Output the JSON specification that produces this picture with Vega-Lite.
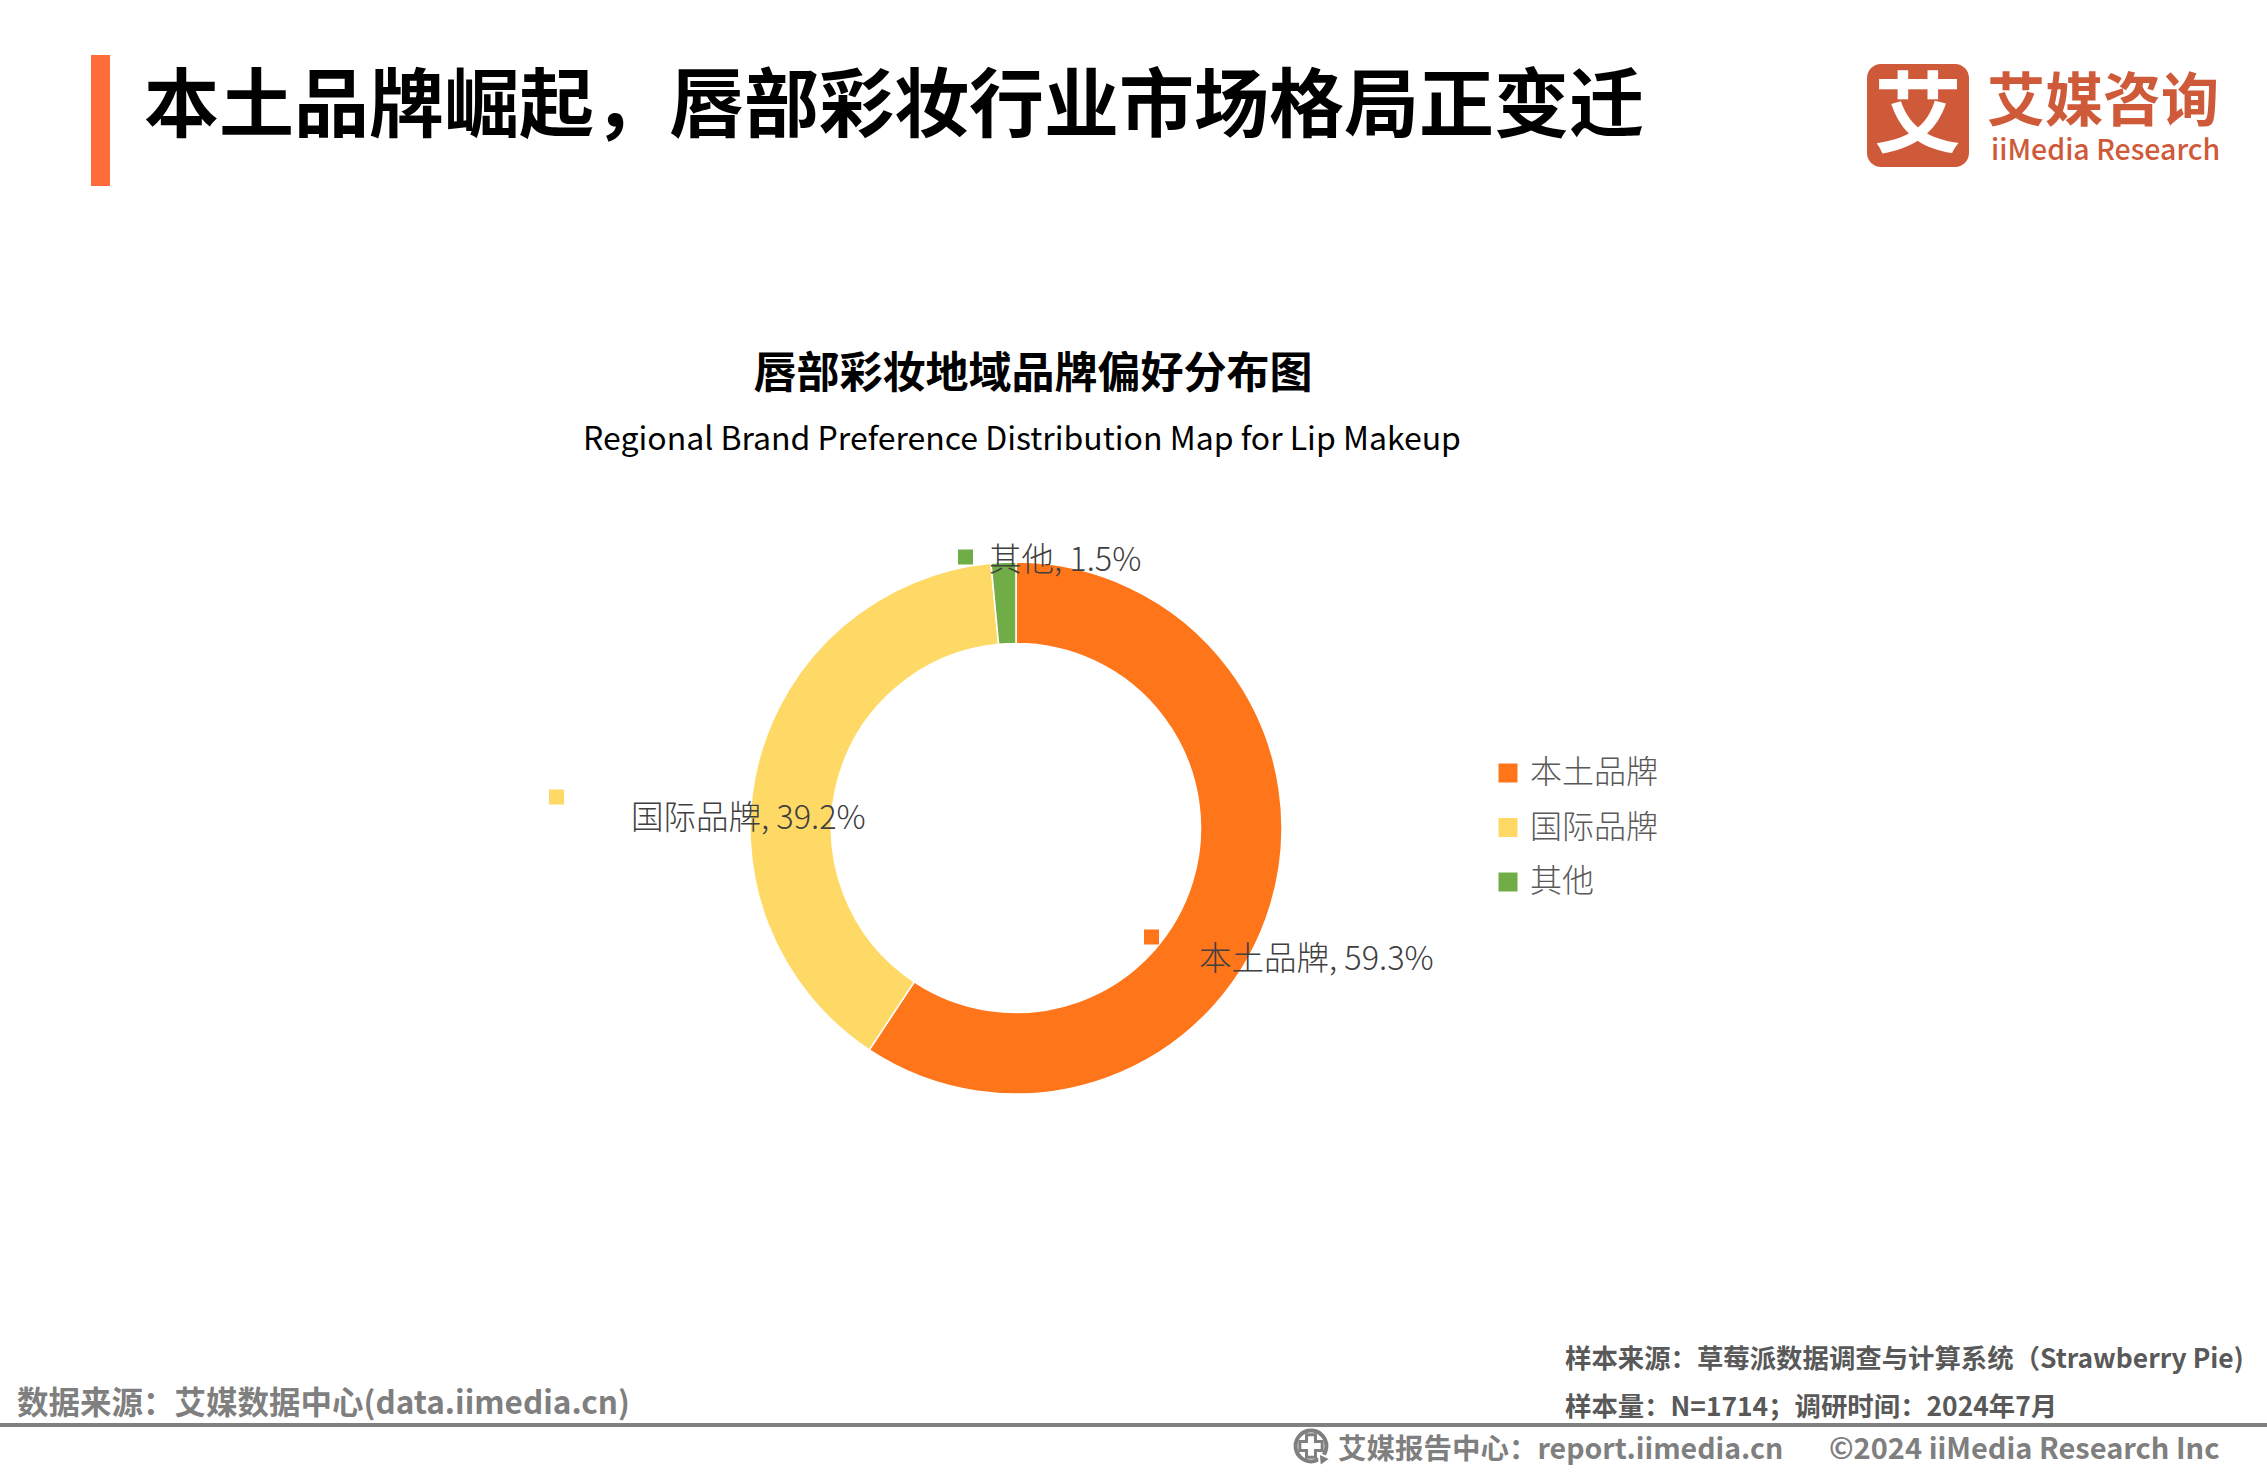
{"$schema":"https://vega.github.io/schema/vega-lite/v6.json","width":2032,"height":1292,"autosize":"none","padding":{"left":0,"top":182,"right":235,"bottom":0},"background":"white","view":{"stroke":null},"config":{"font":"Noto Sans CJK SC"},"datasets":{"brands":[{"品牌":"本土品牌","占比":59.3,"序":1,"标签":"本土品牌, 59.3%"},{"品牌":"国际品牌","占比":39.2,"序":2,"标签":"国际品牌, 39.2%"},{"品牌":"其他","占比":1.5,"序":3,"标签":"其他, 1.5%"}]},"layer":[{"data":{"name":"brands"},"mark":{"type":"arc","innerRadius":184.5,"outerRadius":266,"stroke":"white","strokeWidth":1.5},"encoding":{"theta":{"field":"占比","type":"quantitative","stack":true,"scale":{"domain":[0,100]}},"order":{"field":"序","type":"ordinal"},"color":{"field":"品牌","type":"nominal","scale":{"domain":["本土品牌","国际品牌","其他"],"range":["#FF751A","#FFD966","#70AD47"]},"legend":{"orient":"none","legendX":1492,"legendY":575,"title":null,"symbolType":"square","symbolSize":361,"symbolStrokeWidth":0,"labelFontSize":32,"labelFont":"Noto Sans CJK SC","labelFontWeight":300,"labelColor":"#595959","labelOffset":6,"rowPadding":22.5,"labelLimit":300}}}},{"data":{"name":"brands"},"transform":[{"filter":"datum.序 == 1"}],"mark":{"type":"point","shape":"square","filled":true,"opacity":1,"size":225,"x":1151.5,"y":755},"encoding":{"color":{"field":"品牌","type":"nominal","legend":null}}},{"data":{"name":"brands"},"transform":[{"filter":"datum.序 == 2"}],"mark":{"type":"point","shape":"square","filled":true,"opacity":1,"size":225,"x":556.5,"y":615},"encoding":{"color":{"field":"品牌","type":"nominal","legend":null}}},{"data":{"name":"brands"},"transform":[{"filter":"datum.序 == 3"}],"mark":{"type":"point","shape":"square","filled":true,"opacity":1,"size":225,"x":965.5,"y":375},"encoding":{"color":{"field":"品牌","type":"nominal","legend":null}}},{"data":{"name":"brands"},"transform":[{"filter":"datum.序 == 1"}],"mark":{"type":"text","align":"left","baseline":"middle","fontSize":32.5,"fontWeight":300,"color":"#404040","x":1199,"y":778},"encoding":{"text":{"field":"标签"}}},{"data":{"name":"brands"},"transform":[{"filter":"datum.序 == 2"}],"mark":{"type":"text","align":"left","baseline":"middle","fontSize":32.5,"fontWeight":300,"color":"#404040","x":631,"y":637},"encoding":{"text":{"field":"标签"}}},{"data":{"name":"brands"},"transform":[{"filter":"datum.序 == 3"}],"mark":{"type":"text","align":"left","baseline":"middle","fontSize":32.5,"fontWeight":300,"color":"#404040","x":989,"y":379},"encoding":{"text":{"field":"标签"}}},{"data":{"values":[{"t":"bar"}]},"mark":{"type":"rect","color":"#FF6B3A"},"encoding":{"x":{"value":91},"x2":{"value":110},"y":{"value":-127},"y2":{"value":4}}},{"data":{"values":[{"t":"本土品牌崛起，唇部彩妆行业市场格局正变迁"}]},"mark":{"type":"text","align":"left","baseline":"middle","fontSize":75,"fontWeight":"bold","color":"#000000","x":144,"y":-74},"encoding":{"text":{"field":"t"}}},{"data":{"values":[{"t":"唇部彩妆地域品牌偏好分布图"}]},"mark":{"type":"text","align":"center","baseline":"middle","fontSize":43,"fontWeight":"bold","color":"#000000","x":1033,"y":193},"encoding":{"text":{"field":"t"}}},{"data":{"values":[{"t":"Regional Brand Preference Distribution Map for Lip Makeup"}]},"mark":{"type":"text","align":"center","baseline":"middle","fontSize":32,"color":"#000000","x":1022,"y":258},"encoding":{"text":{"field":"t"}}},{"data":{"values":[{"t":"logo"}]},"mark":{"type":"rect","color":"#CF5A3A","cornerRadius":14},"encoding":{"x":{"value":1867},"x2":{"value":1969},"y":{"value":-118},"y2":{"value":-15}}},{"data":{"values":[{"t":"艾"}]},"mark":{"type":"text","align":"center","baseline":"middle","fontSize":88,"fontWeight":"bold","color":"white","x":1918,"y":-63},"encoding":{"text":{"field":"t"}}},{"data":{"values":[{"t":"艾媒咨询"}]},"mark":{"type":"text","align":"left","baseline":"middle","fontSize":58,"fontWeight":"bold","color":"#CF5A3A","x":1987,"y":-78},"encoding":{"text":{"field":"t"}}},{"data":{"values":[{"t":"iiMedia Research"}]},"mark":{"type":"text","align":"left","baseline":"middle","fontSize":28.5,"fontWeight":500,"color":"#CF5A3A","x":1991,"y":-31},"encoding":{"text":{"field":"t"}}},{"data":{"values":[{"t":"rule"}]},"mark":{"type":"rect","color":"#808080"},"encoding":{"x":{"value":0},"x2":{"value":2267},"y":{"value":1241},"y2":{"value":1245}}},{"data":{"values":[{"t":"数据来源：艾媒数据中心(data.iimedia.cn)"}]},"mark":{"type":"text","align":"left","baseline":"middle","fontSize":31.5,"fontWeight":"bold","color":"#7F7F7F","x":17,"y":1223},"encoding":{"text":{"field":"t"}}},{"data":{"values":[{"t":"样本来源：草莓派数据调查与计算系统（Strawberry Pie)"}]},"mark":{"type":"text","align":"left","baseline":"middle","fontSize":26.4,"fontWeight":"bold","color":"#595959","x":1565,"y":1178},"encoding":{"text":{"field":"t"}}},{"data":{"values":[{"t":"样本量：N=1714；调研时间：2024年7月"}]},"mark":{"type":"text","align":"left","baseline":"middle","fontSize":26.4,"fontWeight":"bold","color":"#595959","x":1565,"y":1226},"encoding":{"text":{"field":"t"}}},{"data":{"values":[{"t":"艾媒报告中心：report.iimedia.cn"}]},"mark":{"type":"text","align":"left","baseline":"middle","fontSize":28.5,"fontWeight":"bold","color":"#7F7F7F","x":1338,"y":1268},"encoding":{"text":{"field":"t"}}},{"data":{"values":[{"t":"©2024  iiMedia Research  Inc"}]},"mark":{"type":"text","align":"left","baseline":"middle","fontSize":29,"fontWeight":"bold","color":"#7F7F7F","x":1829,"y":1268},"encoding":{"text":{"field":"t"}}},{"data":{"values":[{"t":"globe"}]},"mark":{"type":"point","shape":"circle","size":950,"filled":false,"stroke":"#7F7F7F","strokeWidth":4,"opacity":1,"x":1311,"y":1264},"encoding":{"detail":{"field":"t"}}},{"data":{"values":[{"t":"globe"}]},"mark":{"type":"point","shape":"cross","size":500,"filled":false,"stroke":"#7F7F7F","strokeWidth":3,"opacity":1,"x":1311,"y":1264},"encoding":{"detail":{"field":"t"}}},{"data":{"values":[{"t":"arrow"}]},"mark":{"type":"point","shape":"triangle-up","size":170,"filled":true,"color":"#7F7F7F","stroke":"white","strokeWidth":2,"opacity":1,"angle":-35,"x":1322,"y":1276},"encoding":{"detail":{"field":"t"}}}]}
